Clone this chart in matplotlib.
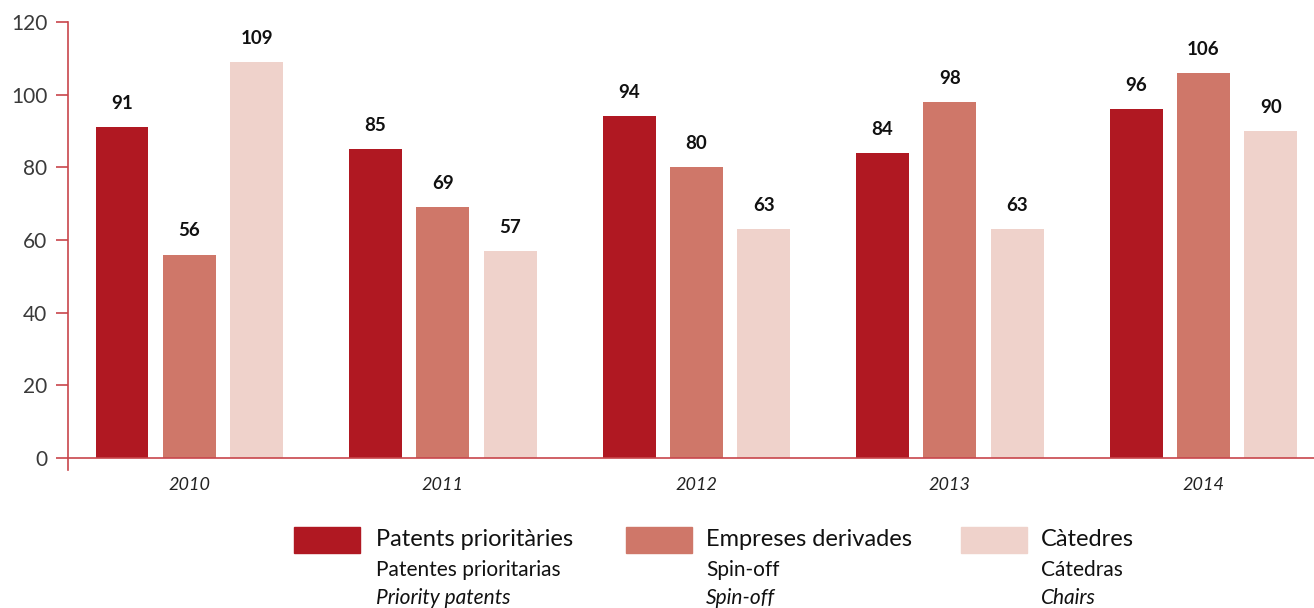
import matplotlib.pyplot as plt
from matplotlib.patches import Rectangle

plt.rcParams['font.family'] = ['Lato', 'DejaVu Sans']

# Data
years = ['2010', '2011', '2012', '2013', '2014']
patents = [91, 85, 94, 84, 96]
spinoffs = [56, 69, 80, 98, 106]
chairs = [109, 57, 63, 63, 90]

series = [patents, spinoffs, chairs]
colors = ['#b01822', '#cf7769', '#efd2cb']
label_main = ['Patents prioritàries', 'Empreses derivades', 'Càtedres']
label_es = ['Patentes prioritarias', 'Spin-off', 'Cátedras']
label_en = ['Priority patents', 'Spin-off', 'Chairs']

axis_red = '#c8464b'

fig = plt.figure(figsize=(13.14, 6.08), dpi=100)
ax = fig.add_axes([68 / 1314, 1 - 470 / 608, 1 - 68 / 1314, (470 - 22) / 608])

width = 0.209
step = 0.266
xs = range(len(years))
for k, (vals, col) in enumerate(zip(series, colors)):
    pos = [x + (k - 1) * step for x in xs]
    ax.bar(pos, vals, width=width, color=col, zorder=2)
    for p, v in zip(pos, vals):
        ax.annotate(str(v), (p, v), xytext=(0, 11), textcoords='offset points',
                    ha='center', va='bottom', fontsize=13.5, fontweight='bold',
                    color='#111111')

ax.set_xlim(-0.479, 4.436)
ax.set_ylim(-3.3, 120)
ax.set_yticks(range(0, 121, 20))
ax.set_xticks(list(xs))
ax.set_xticklabels(years)

for s in ['top', 'right']:
    ax.spines[s].set_visible(False)
ax.spines['bottom'].set_position(('data', 0))
ax.spines['left'].set_bounds(-3.3, 120)
for s in ['bottom', 'left']:
    ax.spines[s].set_color(axis_red)
    ax.spines[s].set_linewidth(1.2)

ax.tick_params(axis='y', direction='out', length=9, width=1.2, color=axis_red,
               labelsize=15, labelcolor='#3a3a3a', pad=6)
ax.tick_params(axis='x', length=0, pad=14, labelsize=13, labelcolor='#222222')
for t in ax.get_xticklabels():
    t.set_fontstyle('italic')

# legend
box_x = [294, 626, 961]
text_x = [376, 706, 1041]
for bx, tx, col, m, es, en in zip(box_x, text_x, colors, label_main, label_es, label_en):
    fig.patches.append(Rectangle((bx / 1314, 1 - 553 / 608), 66 / 1314, 26 / 608,
                                 transform=fig.transFigure, color=col))
    fig.text(tx / 1314, 1 - 539 / 608, m, fontsize=17, va='center', color='#111111')
    fig.text(tx / 1314, 1 - 570 / 608, es, fontsize=15, va='center', color='#111111')
    fig.text(tx / 1314, 1 - 598 / 608, en, fontsize=15, va='center', color='#111111',
             fontstyle='italic')

fig.savefig('out.png', dpi=100)
